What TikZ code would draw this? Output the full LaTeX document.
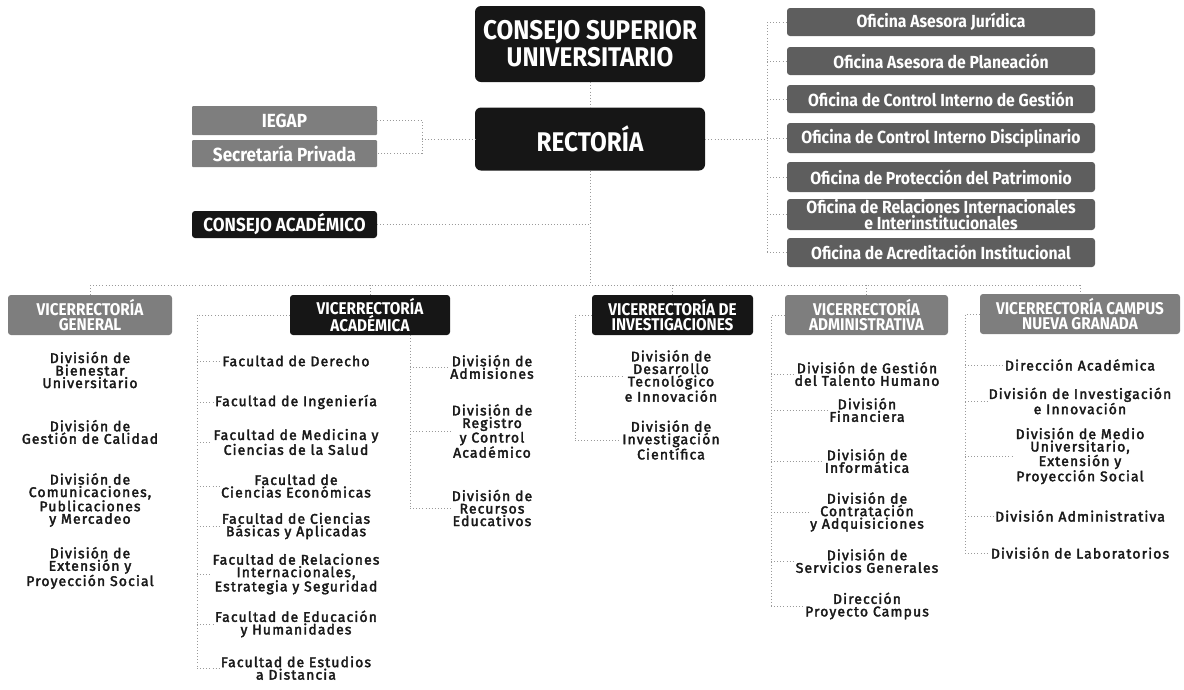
\documentclass[tikz,border=0pt]{standalone}
\usepackage{fontspec}
\setmainfont{Fira Sans}
\newfontfamily\headfont{Fira Sans}[FakeStretch=0.9]
\newfontfamily\bodyfont{Fira Sans}[FakeBold=2.5,LetterSpace=8]
\definecolor{boxblack}{HTML}{161616}
\definecolor{boxdark}{HTML}{5E5E5E}
\definecolor{boxlight}{HTML}{7E7E7E}
\definecolor{linegray}{HTML}{9A9A9A}
\tikzset{
  hbox/.style={draw=none, inner sep=0pt, align=center, text=white, rounded corners=3pt},
  blackbox/.style={hbox, fill=boxblack},
  darkbox/.style={hbox, fill=boxdark},
  lightbox/.style={hbox, fill=boxlight},
  officebox/.style={darkbox, minimum width=308, font=\headfont\bfseries\fontsize{17.5}{13}\selectfont},
  vicebox/.style={hbox, minimum height=40, font=\headfont\bfseries\fontsize{17}{15}\selectfont},
  item/.style={align=center, inner sep=1pt, text=black!90, font=\bodyfont\fontsize{14}{12.5}\selectfont},
  conn/.style={draw=linegray, line width=0.8pt, dash pattern=on 0.9pt off 2.2pt},
}
\begin{document}
\begin{tikzpicture}[x=1pt,y=-1pt]
\useasboundingbox (0,0) rectangle (1184,689);

% top
\node[blackbox, rounded corners=6pt, minimum width=230, minimum height=76,
      font=\headfont\bfseries\fontsize{27}{27}\selectfont] (cs) at (590,44) {CONSEJO SUPERIOR\\UNIVERSITARIO};
\node[blackbox, rounded corners=6pt, minimum width=230, minimum height=63,
      font=\headfont\bfseries\fontsize{27}{27}\selectfont] (rec) at (590,139) {RECTORÍA};

\node[lightbox, rounded corners=1pt, minimum width=185, minimum height=29,
      font=\headfont\bfseries\fontsize{19}{19}\selectfont] (iegap) at (284.5,120.5) {IEGAP};
\node[lightbox, rounded corners=1pt, minimum width=185, minimum height=27,
      font=\headfont\bfseries\fontsize{19}{19}\selectfont] (secp) at (284.5,153.5) {Secretaría Privada};
\node[blackbox, minimum width=185, minimum height=27,
      font=\headfont\bfseries\fontsize{19}{19}\selectfont] (cacad) at (284.5,224.5) {CONSEJO ACADÉMICO};

% offices
\node[officebox, minimum height=28] (o1) at (941,22) {Oficina Asesora Jurídica};
\node[officebox, minimum height=28] (o2) at (941,61) {Oficina Asesora de Planeación};
\node[officebox, minimum height=28] (o3) at (941,99) {Oficina de Control Interno de Gestión};
\node[officebox, minimum height=30] (o4) at (941,138) {Oficina de Control Interno Disciplinario};
\node[officebox, minimum height=30] (o5) at (941,177) {Oficina de Protección del Patrimonio};
\node[officebox, minimum height=31] (o6) at (941,214.5) {Oficina de Relaciones Internacionales\\e Interinstitucionales};
\node[officebox, minimum height=29] (o7) at (941,252.5) {Oficina de Acreditación Institucional};

% vicerrectorias
\node[vicebox, fill=boxlight, minimum width=164] (vg) at (90,315) {VICERRECTORÍA\\GENERAL};
\node[vicebox, fill=boxblack, minimum width=160] (va) at (370,315) {VICERRECTORÍA\\ACADÉMICA};
\node[vicebox, fill=boxblack, minimum width=161] (vi) at (672.5,315) {VICERRECTORÍA DE\\INVESTIGACIONES};
\node[vicebox, fill=boxlight, minimum width=163] (vadm) at (866.5,315) {VICERRECTORÍA\\ADMINISTRATIVA};
\node[vicebox, fill=boxlight, minimum width=200] (vc) at (1080,314) {VICERRECTORÍA CAMPUS\\NUEVA GRANADA};

% column 1
\node[item] (b1) at (90,370) {División de\\Bienestar\\Universitario};
\node[item] (b2) at (90,432) {División de\\Gestión de Calidad};
\node[item] (b3) at (90,500) {División de\\Comunicaciones,\\Publicaciones\\y Mercadeo};
\node[item] (b4) at (90,568) {División de\\Extensión y\\Proyección Social};

% column 2
\node[item] (f1) at (296,361) {Facultad de Derecho};
\node[item] (f2) at (296,402) {Facultad de Ingeniería};
\node[item] (f3) at (296,442) {Facultad de Medicina y\\Ciencias de la Salud};
\node[item] (f4) at (296,486) {Facultad de\\Ciencias Económicas};
\node[item] (f5) at (296,526) {Facultad de Ciencias\\Básicas y Aplicadas};
\node[item] (f6) at (296,574) {Facultad de Relaciones\\Internacionales,\\Estrategia y Seguridad};
\node[item] (f7) at (296,624) {Facultad de Educación\\y Humanidades};
\node[item] (f8) at (296,668) {Facultad de Estudios\\a Distancia};

% column 3
\node[item] (a1) at (492,367) {División de\\Admisiones};
\node[item] (a2) at (492,431) {División de\\Registro\\y Control\\Académico};
\node[item] (a3) at (492,508) {División de\\Recursos\\Educativos};

% column 4
\node[item] (i1) at (671,376) {División de\\Desarrollo\\Tecnológico\\e Innovación};
\node[item] (i2) at (671,440) {División de\\Investigación\\Científica};

% column 5
\node[item] (d1) at (867,374) {División de Gestión\\del Talento Humano};
\node[item] (d2) at (867,410) {División\\Financiera};
\node[item] (d3) at (867,461) {División de\\Informática};
\node[item] (d4) at (867,512) {División de\\Contratación\\y Adquisiciones};
\node[item] (d5) at (867,561) {División de\\Servicios Generales};
\node[item] (d6) at (867,606) {Dirección\\Proyecto Campus};

% column 6
\node[item] (c1) at (1080,365) {Dirección Académica};
\node[item] (c2) at (1080,401) {División de Investigación\\e Innovación};
\node[item] (c3) at (1080,456) {División de Medio\\Universitario,\\Extensión y\\Proyección Social};
\node[item] (c4) at (1080,516) {División Administrativa};
\node[item] (c5) at (1080,553) {División de Laboratorios};

% ---------- connectors ----------
\coordinate (bus) at (0,285);
\coordinate (br) at (422,0);
\coordinate (osp) at (767,0);
\coordinate (s2) at (197,0);
\coordinate (s3) at (410,0);
\coordinate (s4) at (575,0);
\coordinate (s5) at (771,0);
\coordinate (s6) at (965,0);

\draw[conn] (cs.south) -- (rec.north);
\draw[conn] (rec.south) -- (rec.south |- bus);
\draw[conn] (cacad.east) -- (cacad.east -| rec.south);
\draw[conn] (iegap.east) -- (iegap.east -| br) -- (secp.east -| br) -- (secp.east);
\draw[conn] (br |- rec.west) -- (rec.west);
\draw[conn] (rec.east) -- (rec.east -| osp);
\draw[conn] (o1.west -| osp) -- (o7.west -| osp);
\foreach \o in {o1,o2,o3,o4,o5,o6,o7} \draw[conn] (\o.west -| osp) -- (\o.west);

\draw[conn] (vg.north |- bus) -- (vc.north |- bus);
\foreach \v in {vg,va,vi,vadm,vc} \draw[conn] (\v.north |- bus) -- (\v.north);

\draw[conn] (va.west) -- (va.west -| s2) -- (f8.west -| s2);
\foreach \f in {f1,f2,f3,f4,f5,f6,f7,f8} \draw[conn] (\f.west -| s2) -- (\f.west);
\draw[conn] (va.south -| s3) -- (a3.west -| s3);
\foreach \a in {a1,a2,a3} \draw[conn] (\a.west -| s3) -- (\a.west);
\draw[conn] (vi.west) -- (vi.west -| s4) -- (i2.west -| s4);
\foreach \i in {i1,i2} \draw[conn] (\i.west -| s4) -- (\i.west);
\draw[conn] (vadm.west) -- (vadm.west -| s5) -- (d6.west -| s5);
\foreach \d in {d1,d2,d3,d4,d5,d6} \draw[conn] (\d.west -| s5) -- (\d.west);
\draw[conn] (vc.west) -- (vc.west -| s6) -- (c5.west -| s6);
\foreach \c in {c1,c2,c3,c4,c5} \draw[conn] (\c.west -| s6) -- (\c.west);
\end{tikzpicture}
\end{document}
